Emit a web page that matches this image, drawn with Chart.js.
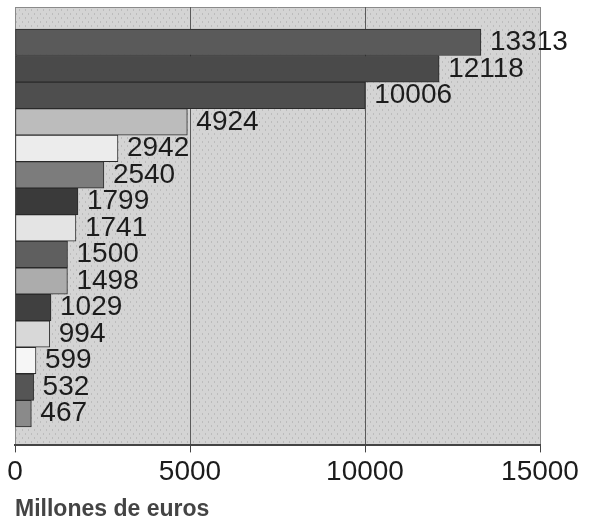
<!DOCTYPE html>
<html>
<head>
<meta charset="utf-8">
<script src="https://cdn.jsdelivr.net/npm/chart.js@4.4.1/dist/chart.umd.min.js"></script>
<style>
    html, body { margin: 0; padding: 0; background: #fff; }
    #wrap { width: 594px; height: 521px; }
</style>
</head>
<body>
<div id="wrap"><canvas id="chart"></canvas></div>
<script>
// values, top bar first
const values = [13313, 12118, 10006, 4924, 2942, 2540, 1799, 1741, 1500, 1498, 1029, 994, 599, 532, 467]
const xTicks = [0, 5000, 10000, 15000]
const axisTitle = 'Millones de euros'

const barColors = [
    '#5a5a5a', '#4a4a4a', '#4e4e4e', '#bcbcbc', '#ececec',
    '#7c7c7c', '#3a3a3a', '#e4e4e4', '#5f5f5f', '#acacac',
    '#404040', '#d8d8d8', '#f6f6f6', '#555555', '#8a8a8a'
]

// small dotted texture for the plot area
const makeDots = () => {
    const c = document.createElement('canvas')
    c.width = 6
    c.height = 8
    const g = c.getContext('2d')
    g.fillStyle = '#d4d4d4'
    g.fillRect(0, 0, 6, 8)
    g.fillStyle = '#bcbcbc'
    g.fillRect(1, 1, 1, 2)
    g.fillRect(4, 5, 1, 2)
    return g.createPattern(c, 'repeat')
}

const plotBackground = {
    id: 'plotBackground',
    beforeDraw: (chart) => {
        const {ctx, chartArea} = chart
        ctx.save()
        ctx.fillStyle = makeDots()
        ctx.fillRect(chartArea.left, chartArea.top, chartArea.width, chartArea.height)
        ctx.strokeStyle = '#8a8a8a'
        ctx.lineWidth = 1
        ctx.beginPath()
        ctx.moveTo(chartArea.left, chartArea.top + 0.5)
        ctx.lineTo(chartArea.right, chartArea.top + 0.5)
        ctx.stroke()
        ctx.restore()
    }
}

const valueLabels = {
    id: 'valueLabels',
    afterDatasetsDraw: (chart) => {
        const {ctx} = chart
        const meta = chart.getDatasetMeta(0)
        ctx.save()
        ctx.font = '28px "Liberation Sans", Arial, sans-serif'
        ctx.fillStyle = '#1c1c1c'
        ctx.textBaseline = 'middle'
        ctx.textAlign = 'left'
        meta.data.forEach((bar, i) => {
            ctx.fillText(String(values[i]), bar.x + 9, bar.y)
        })
        ctx.restore()
    }
}

new Chart(document.getElementById('chart'), {
    type: 'bar',
    data: {
        datasets: [{
            data: values.map((v, i) => ({x: v, y: i})),
            backgroundColor: barColors,
            borderColor: '#2a2a2a',
            borderWidth: 1,
            borderSkipped: false,
            barThickness: 'flex',
            barPercentage: 1,
            categoryPercentage: 1
        }]
    },
    plugins: [plotBackground, valueLabels],
    options: {
        indexAxis: 'y',
        responsive: true,
        maintainAspectRatio: false,
        animation: false,
        layout: {padding: {left: 15, top: 7, right: 54, bottom: 0}},
        plugins: {
            legend: {display: false},
            tooltip: {enabled: false}
        },
        scales: {
            x: {
                type: 'linear',
                min: xTicks[0],
                max: xTicks[xTicks.length - 1],
                afterBuildTicks: (scale) => {
                    scale.ticks = xTicks.map(v => ({value: v}))
                },
                ticks: {
                    color: '#1c1c1c',
                    padding: 3,
                    maxRotation: 0,
                    callback: (v) => String(v),
                    font: {family: '"Liberation Sans", Arial, sans-serif', size: 28}
                },
                grid: {
                    color: (c) => (c.index === 0 || c.index === xTicks.length - 1) ? '#8a8a8a' : '#5a5a5a',
                    lineWidth: 1,
                    drawTicks: true,
                    tickLength: 7,
                    tickColor: '#444'
                },
                border: {color: '#444', width: 2},
                title: {
                    display: true,
                    text: axisTitle,
                    align: 'start',
                    color: '#444',
                    padding: {top: 6, bottom: 0},
                    font: {family: '"Liberation Sans", Arial, sans-serif', size: 23, weight: 'bold', lineHeight: 1}
                }
            },
            y: {
                type: 'linear',
                display: false,
                reverse: true,
                offset: false,
                bounds: 'data',
                grace: 0,
                min: -1.33,
                max: 15.2
            }
        }
    }
})
</script>
</body>
</html>
